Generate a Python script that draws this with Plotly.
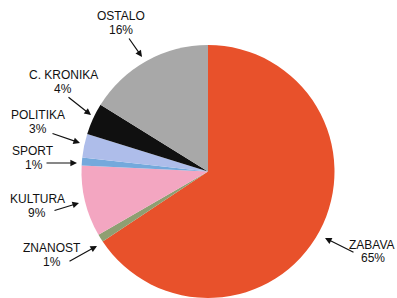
import plotly.graph_objects as go

categories = ["ZABAVA", "ZNANOST", "KULTURA", "SPORT", "POLITIKA", "C. KRONIKA", "OSTALO"]
values = [65, 1, 9, 1, 3, 4, 16]
colors = ["#E8512B", "#8E9F72", "#F3A6C1", "#74A9DC", "#AEBDEA", "#101010", "#A8A8A8"]

W, H = 397, 298
# label layout (pixel positions): name centre, percent centre, arrow tail, arrow head
label_layout = {
    "ZABAVA":     ((372, 245), (373, 258), (355, 253), (325, 238)),
    "ZNANOST":    ((52, 248), (52, 262), (68, 262), (97, 246)),
    "KULTURA":    ((37, 198.5), (37, 212.5), (53, 211), (79, 203)),
    "SPORT":      ((33, 150.5), (34, 164.5), (45, 163), (77, 163)),
    "POLITIKA":   ((38, 114.5), (38, 129), (51, 133), (80, 143)),
    "C. KRONIKA": ((63, 74.5), (63, 88.5), (67, 96), (91, 115)),
    "OSTALO":     ((121, 16.5), (121, 30.5), (128, 37), (142, 57)),
}

def px(x):
    return x / W

def py(y):
    return 1 - y / H

cx, cy, r = 208, 171.5, 126.5

fig = go.Figure(go.Pie(
    labels=categories,
    values=values,
    sort=False,
    direction="clockwise",
    rotation=0,
    marker=dict(colors=colors, line=dict(width=0)),
    textinfo="none",
    hoverinfo="label+percent",
    domain=dict(x=[px(cx - r), px(cx + r)], y=[py(cy + r), py(cy - r)]),
))

font = dict(family="Liberation Sans, Arial, sans-serif", size=12, color="#111111")
annotations = []
for cat, v in zip(categories, values):
    (nx, ny), (qx, qy), (tx, ty), (hx, hy) = label_layout[cat]
    annotations.append(dict(x=px(nx), y=py(ny), xref="paper", yref="paper", text=cat,
                            showarrow=False, xanchor="center", yanchor="middle", font=font))
    annotations.append(dict(x=px(qx), y=py(qy), xref="paper", yref="paper", text=f"{v}%",
                            showarrow=False, xanchor="center", yanchor="middle", font=font))
    annotations.append(dict(x=px(hx), y=py(hy), xref="paper", yref="paper", text="",
                            showarrow=True, ax=tx - hx, ay=ty - hy, axref="pixel", ayref="pixel",
                            arrowhead=2, arrowsize=1.1, arrowwidth=1.2, arrowcolor="#111111",
                            standoff=0, startstandoff=0))

fig.update_layout(
    width=W, height=H,
    margin=dict(l=0, r=0, t=0, b=0),
    paper_bgcolor="white",
    plot_bgcolor="white",
    showlegend=False,
    annotations=annotations,
)

fig.write_html("out.html", config={"displayModeBar": False},
               post_script="document.body.style.margin='0';document.body.style.overflow='hidden';")
